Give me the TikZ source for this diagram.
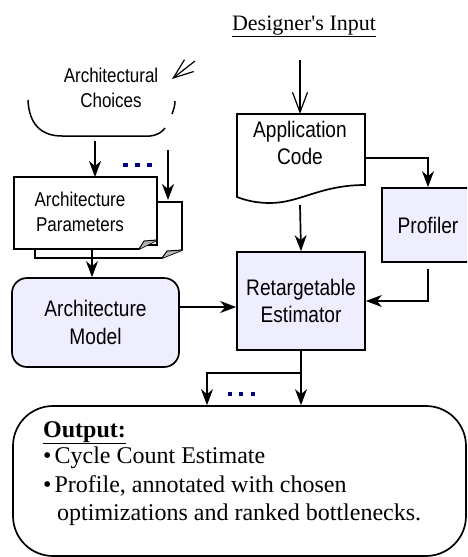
\documentclass[tikz,border=0pt]{standalone}
\usepackage{fontspec}
\setmainfont{Liberation Serif}[Ligatures=TeXOff]
\newfontfamily\nsans[FakeStretch=0.85]{Liberation Sans}
\usetikzlibrary{arrows.meta,calc}
\definecolor{boxfill}{RGB}{238,238,255}
\definecolor{dotblue}{RGB}{0,0,128}
\newcommand\bigsans{\nsans\fontsize{22.5}{27}\selectfont}
\newcommand\smallsans{\nsans\fontsize{20}{24.5}\selectfont}
\newcommand\serifout{\fontsize{24}{28}\selectfont}
\tikzset{
  line/.style={line width=1.7pt},
  farrow/.style={line, -{Stealth[length=16pt,width=12pt,inset=5pt]}},
  oarrow/.style={line width=1.2pt, -{Straight Barb[length=20pt,width=15pt,line width=1.2pt]}},
  txt/.style={inner sep=0pt, align=center},
  fbox/.style={draw, line, fill=boxfill, inner sep=0pt, align=center},
  dot/.style={fill=dotblue},
}
\begin{document}
\begin{tikzpicture}[x=1pt,y=-1pt]
\useasboundingbox (0,0) rectangle (467,557);
\clip (0,0) rectangle (467,557);

% Designer's input
\node[inner sep=0pt, anchor=base, font=\fontsize{22}{26}\selectfont] (din) at (304,30) {\underline{Designer's Input}};
\coordinate (dinarr) at (300,60);

% Architectural choices
\draw[line width=1.5pt] (28,100) .. controls (29,125) and (42,136) .. (62,136) -- (150,136) .. controls (158,135) and (162,132) .. (165,128);
\draw[line width=1.5pt] (172,114) .. controls (174,109) and (175,105) .. (175,101);
\node[txt, font=\smallsans] (choices) at (111,88) {Architectural\\Choices};
\coordinate (chA) at (195,61);
\coordinate (chB) at (172,79);
\draw[oarrow] (chA) -- (chB);

% Architecture parameters (stacked pages)
\draw[line, fill=white] (157,202) -- (182,202) -- (182,250) -- (162,258) -- (35,258) -- (35,245) -- (157,245) -- cycle;
\fill[gray!60] (182,250) -- (162,258) -- (167,251) -- cycle;
\draw[line width=1pt] (182,250) -- (167,251) -- (162,258);
\draw[line, fill=white] (14,177) -- (157,177) -- (157,240) -- (139,249) -- (14,249) -- cycle;
\fill[gray!60] (157,240) -- (139,249) -- (144,241) -- cycle;
\draw[line width=1pt] (157,240) -- (144,241) -- (139,249);
\node[txt, font=\smallsans] (params) at (80,212) {Architecture\\Parameters};
\coordinate (parTop) at (95,177);
\coordinate (parBack) at (168,200);
\coordinate (parBot) at (92,249);

% choices -> params
\coordinate (chs1) at (95,141);
\coordinate (chs2) at (168,150);
\draw[farrow] (chs1) -- (parTop);
\draw[farrow] (chs2) -- (parBack);
\fill[dot] (123,163) rectangle (128,167);
\fill[dot] (135,163) rectangle (140,167);
\fill[dot] (147,163) rectangle (152,167);

% Architecture model
\node[fbox, rounded corners=15pt, minimum width=167pt, minimum height=89pt, font=\bigsans] (model) at (95.5,322.5) {Architecture\\[1pt]Model};
\draw[farrow] (parBot) -- (parBot |- model.north);

% Application code
\draw[line] (237,114) -- (365,114) -- (365,185) .. controls (320,185) and (300,203) .. (270,203) .. controls (255,203) and (245,200) .. (237,197) -- cycle;
\node[txt, font=\bigsans] (app) at (300,143) {Application\\Code};
\coordinate (appN) at (300,114);
\coordinate (appE) at (365,158);
\coordinate (appS) at (300,205);
\draw[oarrow] (dinarr) -- (appN);

% Retargetable estimator
\node[fbox, minimum width=128pt, minimum height=98pt, font=\bigsans] (est) at (301,301) {Retargetable\\Estimator};

% Profiler
\node[fbox, minimum width=92pt, minimum height=74pt, font=\bigsans] (prof) at (428,225) {Profiler};

% Output
\node[draw, line, rounded corners=40pt, minimum width=453pt, minimum height=150pt] (out) at (239.5,481) {};
\node[inner sep=0pt, anchor=base west, font=\serifout] (o1) at (43,437) {\underline{\textbf{Output:}}};
\node[inner sep=0pt, anchor=base west, font=\serifout] (o2) at (43,463) {•\hspace{3pt}Cycle Count Estimate};
\node[inner sep=0pt, anchor=base west, font=\serifout] (o3) at (43,492) {•\hspace{3pt}Profile, annotated with chosen};
\node[inner sep=0pt, anchor=base west, font=\serifout] (o4) at (57,520) {optimizations and ranked bottlenecks.};

% connectors
\draw[farrow] (model.east |- 0,307) -- (est.west |- 0,307);
\draw[farrow] (appE) -| (prof.north);
\draw[farrow] (appS) -- (est.north);
\draw[farrow] ([yshift=-6pt]prof.south) |- (est.east);
\draw[farrow] (est.south) -- (out.north -| est.south);
\coordinate (br) at (300,373);
\coordinate (brL) at (207,373);
\draw[farrow] (br) -- (brL) -- (brL |- out.north);
\fill[dot] (228,392) rectangle (232,396);
\fill[dot] (239,392) rectangle (243,396);
\fill[dot] (251,392) rectangle (255,396);
\end{tikzpicture}
\end{document}
